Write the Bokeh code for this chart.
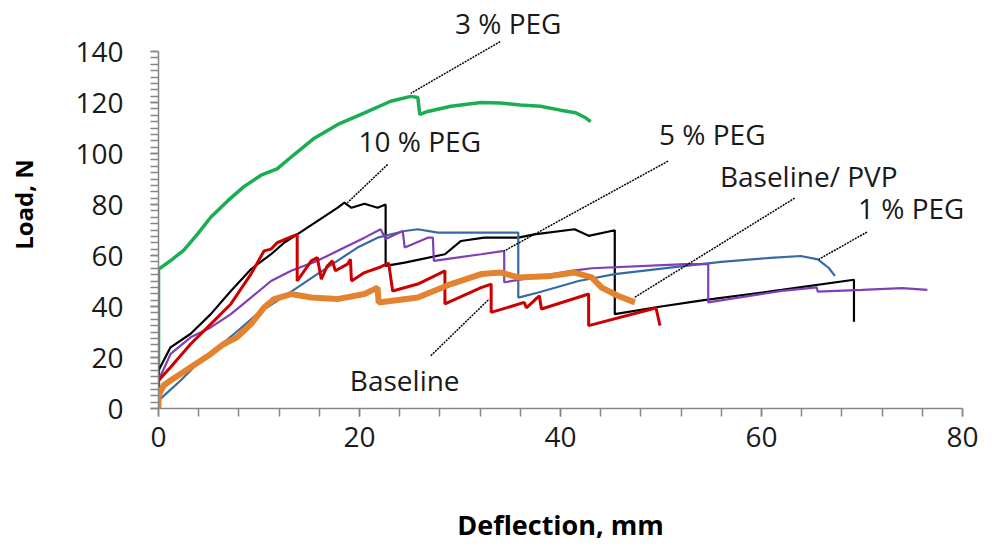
from bokeh.plotting import figure
from bokeh.models import Range1d, SingleIntervalTicker, Label, Arrow
from bokeh.embed import file_html
from bokeh.resources import INLINE

# ---- data ----
peg3_x = [0, 0, 1.2, 2.5, 3.9, 5.2, 6.9, 8.5, 10.2, 11.8, 13.5, 15.5, 17.8, 20.5, 23.1, 25.1, 25.8, 26.0,
          26.8, 29.1, 32.1, 34, 36, 38, 40, 41.5, 42.5, 43]
peg3_y = [5, 54.6, 58, 62, 68.5, 75, 81.5, 87, 91.5, 94, 99.6, 106, 111.3, 115.9, 120.5, 122.4, 122, 115.3,
          116.5, 118.5, 120, 119.8, 119, 118.5, 117, 116, 114, 112.5]

peg10_x = [0, 0, 1.2, 3.2, 5.2, 7.2, 9.2, 11.2, 12.5, 13.8, 15.8, 17.8, 18.5, 19.2, 20.5, 21.8, 22.6, 22.6,
           24.5, 28.5, 30.1, 32.4, 35.8, 37.4, 41.4, 42.8, 45.4, 45.4, 50, 54.1, 62, 69.2, 69.2]
peg10_y = [8.3, 14.9, 24, 29.3, 37, 46.1, 54.6, 60.5, 65, 68.3, 73.5, 78.7, 80.7, 78.7, 80.3, 78.7, 80, 55.9,
           57.2, 60.5, 65.7, 67, 67, 68.3, 70.3, 67.7, 69.9, 37, 40, 42.4, 46.5, 50.5, 34]

peg1_x = [0, 2.2, 4.2, 5.9, 7.9, 9.8, 11.8, 13.8, 15.8, 17.8, 19.8, 21.8, 24.5, 25.8, 27.8, 32.1, 35.8, 35.8,
          37.8, 41.8, 45.4, 52.4, 56, 60.9, 63.9, 65.6, 66.7, 67.3]
peg1_y = [3.1, 11, 18.8, 24, 30.5, 37, 42.2, 47.4, 52.7, 57.9, 63.1, 67, 69.6, 70.3, 69, 69, 69, 43.5,
          45.5, 50, 52.7, 55.9, 57.5, 59.1, 59.8, 58.5, 55.1, 52]

peg5_x = [0, 0, 1.2, 3.2, 5.2, 7.2, 9.2, 11.2, 13.2, 15.8, 18.5, 20.5, 22.1, 22.6, 24.3, 24.5, 26.8, 27.3,
          27.4, 32.1, 34.4, 34.4, 41.1, 43.1, 52.4, 54.7, 54.7, 62, 65.5, 65.6, 70, 74, 76.5]
peg5_y = [8, 11, 21.4, 27.9, 31.8, 37, 43.5, 50, 54, 57.9, 63.1, 67, 70.3, 66.5, 69.6, 63.1, 67, 67,
          57.9, 60.5, 61.8, 49.5, 54, 55, 56.6, 56.6, 41.6, 46.1, 47.5, 45.8, 46.5, 47.2, 46.5]

base_x = [0, 0, 1.2, 3.2, 5.2, 7.2, 9.2, 10.5, 11.2, 11.8, 13.8, 13.8, 15.2, 15.8, 16.2, 16.8, 17.3, 17.6,
          18.8, 19.1, 19.2, 20.5, 22.1, 22.9, 23.3, 25.8, 28.5, 28.5, 32.1, 33.1, 33.1, 36.4, 36.6, 37.9,
          38.1, 42.8, 42.8, 49.1, 49.5, 49.9]
base_y = [5, 11, 16.2, 25.3, 33.1, 41, 52.7, 61.8, 62.5, 65, 68.3, 50, 57.9, 59.2, 50.7, 55.9, 57.9, 54,
          56.6, 58.5, 50, 53.3, 55.5, 57, 46.1, 48.8, 54, 41, 47.4, 48.8, 37.7, 41.6, 39.5, 44.2,
          39, 44.9, 32.5, 39, 39.5, 32.5]

pvp_x = [0, 0, 0.5, 1.2, 3.2, 5.2, 6.5, 7.8, 9.2, 10.5, 11.5, 13.2, 15.2, 17.8, 20.5, 21.8, 21.9, 25.8,
         29.1, 32.1, 34.1, 35.8, 39.1, 41.4, 43.1, 44.1, 45.7, 47.4]
pvp_y = [0, 5, 9, 11, 16.2, 21.4, 25.3, 27.9, 33.1, 39.6, 42.9, 44.9, 43.5, 42.9, 44.9, 47.4, 41.6, 43.5,
         48.8, 52.7, 53.3, 51.4, 52, 53.3, 51.4, 47.4, 44.2, 41.6]

x_axis_min, x_axis_max, x_major = 0, 80, 20
y_axis_min, y_axis_max, y_major = 0, 140, 20

# annotation texts with their leader lines (text x, text y, leader start, leader end) in data units
ann_text = ["3 % PEG", "10 % PEG", "5 % PEG", "Baseline/ PVP", "1 % PEG", "Baseline"]
ann_tx = [34.8, 26.0, 55.1, 64.7, 74.9, 24.5]
ann_ty = [151.0, 104.8, 107.5, 91.1, 78.6, 11.0]
lead_x0 = [34.0, 22.8, 50.7, 63.3, 70.5, 27.1]
lead_y0 = [143.9, 95.7, 97.0, 82.5, 69.2, 20.7]
lead_x1 = [25.1, 18.8, 34.4, 47.3, 65.7, 32.9]
lead_y1 = [123.6, 80.7, 61.8, 43.4, 58.5, 42.9]

# ---- figure ----
# the frame extends above the y axis (to 160) so the top annotation is not clipped
p = figure(width=993, height=548, output_backend="svg", toolbar_location=None,
           x_range=Range1d(x_axis_min, x_axis_max), y_range=Range1d(y_axis_min, 160),
           min_border_left=158, min_border_right=31, min_border_top=0, min_border_bottom=140)
p.outline_line_color = None
p.xgrid.visible = False
p.ygrid.visible = False
p.background_fill_color = "white"
p.border_fill_color = "white"

p.xaxis.ticker = SingleIntervalTicker(interval=x_major, num_minor_ticks=5)
p.yaxis.ticker = SingleIntervalTicker(interval=y_major, num_minor_ticks=8)
p.yaxis.bounds = (y_axis_min, y_axis_max)
for ax in (p.xaxis, p.yaxis):
    ax.axis_line_color = "#868686"
    ax.axis_line_width = 1.5
    ax.major_tick_line_color = "#868686"
    ax.minor_tick_line_color = "#868686"
    ax.major_tick_line_width = 1.5
    ax.minor_tick_line_width = 1.5
    ax.major_tick_in = 0
    ax.major_tick_out = 8
    ax.minor_tick_in = 0
    ax.minor_tick_out = 8
    ax.major_label_text_font = "Open Sans"
    ax.major_label_text_font_size = "28px"
    ax.major_label_text_color = "#1a1a1a"
    ax.axis_label_text_font = "Open Sans"
    ax.axis_label_text_font_style = "bold"
    ax.axis_label_text_color = "#000000"

p.xaxis.axis_label = "Deflection, mm"
p.yaxis.axis_label = "Load, N"
p.xaxis.axis_label_text_font_size = "27px"
p.yaxis.axis_label_text_font_size = "24px"
p.xaxis.major_label_standoff = 10
p.yaxis.major_label_standoff = 27
p.xaxis.axis_label_standoff = 56
p.yaxis.axis_label_standoff = 32

p.line(peg3_x, peg3_y, line_color="#1aae52", line_width=3.5)
p.line(peg10_x, peg10_y, line_color="#000000", line_width=2.2)
p.line(peg1_x, peg1_y, line_color="#376aa4", line_width=2.2)
p.line(peg5_x, peg5_y, line_color="#7e3fb8", line_width=2.2)
p.line(base_x, base_y, line_color="#cc0000", line_width=3)
p.line(pvp_x, pvp_y, line_color="#e4832f", line_width=6)

for t, tx, ty, x0, y0, x1, y1 in zip(ann_text, ann_tx, ann_ty, lead_x0, lead_y0, lead_x1, lead_y1):
    p.add_layout(Arrow(end=None, x_start=x0, y_start=y0, x_end=x1, y_end=y1,
                       line_color="#000000", line_width=1.5, line_dash="2 1"))
    p.add_layout(Label(x=tx, y=ty, text=t, text_align="center", text_baseline="middle",
                       text_font="Open Sans", text_font_size="28px", text_color="#1a1a1a"))

open("out.html", "w").write(file_html(p, INLINE))
